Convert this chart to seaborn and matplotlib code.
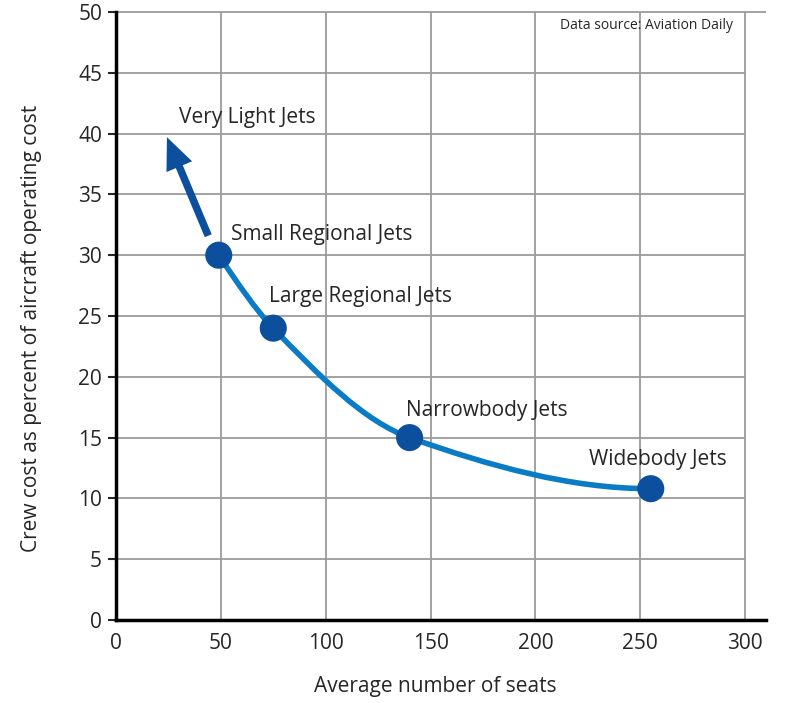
import numpy as np
import matplotlib
matplotlib.use("Agg")
import matplotlib.pyplot as plt
from matplotlib.path import Path
from matplotlib.patches import PathPatch
import pandas as pd
import seaborn as sns

# values
jet_types = ["Small Regional Jets", "Large Regional Jets", "Narrowbody Jets", "Widebody Jets"]
seats = [49, 75, 140, 255]
crew_cost_pct = [30, 24, 15, 10.8]

x_ticks = [0, 50, 100, 150, 200, 250, 300]
y_ticks = [0, 5, 10, 15, 20, 25, 30, 35, 40, 45, 50]

line_blue = "#0a7cc6"
dot_blue = "#0c4f9c"
grid_grey = "#9b9b9b"

sns.set_style("white")
plt.rcParams["font.family"] = ["Open Sans", "DejaVu Sans"]

df = pd.DataFrame({"seats": seats, "pct": crew_cost_pct, "type": jet_types})

fig = plt.figure(figsize=(7.89, 7.03), dpi=100)
ax = fig.add_axes([0.147, 0.118, 0.824, 0.865])
ax.set_xlim(0, 310)
ax.set_ylim(0, 50)

# grid
ax.set_xticks(x_ticks)
ax.set_yticks(y_ticks)
ax.grid(axis="x", color=grid_grey, lw=1.3)
ax.hlines(y_ticks[1:-1], 0, 300, color=grid_grey, lw=1.3, zorder=0.5)
ax.hlines(y_ticks[-1], 0, 310, color=grid_grey, lw=1.3, zorder=0.5, clip_on=False)
ax.set_axisbelow(True)

# smooth monotone curve through the points (pchip slopes, drawn as bezier segments)
x = np.array(seats, dtype=float)
y = np.array(crew_cost_pct, dtype=float)
h = np.diff(x)
d = np.diff(y) / h
m = np.zeros_like(x)
for i in range(1, len(x) - 1):
    w1 = 2 * h[i] + h[i - 1]
    w2 = h[i] + 2 * h[i - 1]
    m[i] = (w1 + w2) / (w1 / d[i - 1] + w2 / d[i])
m0 = ((2 * h[0] + h[1]) * d[0] - h[0] * d[1]) / (h[0] + h[1])
mn = ((2 * h[-1] + h[-2]) * d[-1] - h[-1] * d[-2]) / (h[-1] + h[-2])
m[0] = m0 if np.sign(m0) == np.sign(d[0]) else 0
m[-1] = mn if np.sign(mn) == np.sign(d[-1]) else 0
verts = [(x[0], y[0])]
codes = [Path.MOVETO]
for i in range(len(x) - 1):
    verts += [(x[i] + h[i] / 3, y[i] + m[i] * h[i] / 3),
              (x[i + 1] - h[i] / 3, y[i + 1] - m[i + 1] * h[i] / 3),
              (x[i + 1], y[i + 1])]
    codes += [Path.CURVE4] * 3
ax.add_patch(PathPatch(Path(verts, codes), fill=False, edgecolor=line_blue, lw=4, zorder=2))

sns.scatterplot(data=df, x="seats", y="pct", s=380, color=dot_blue, edgecolor="none",
                ax=ax, zorder=3, legend=False)

# arrow toward very light jets
ax.annotate("", xy=(24.3, 39.7), xytext=(44, 31.6),
            arrowprops=dict(arrowstyle="simple,head_length=1.15,head_width=1.0,tail_width=0.27",
                            mutation_scale=20, color=dot_blue, lw=0,
                            shrinkA=0, shrinkB=0), zorder=3)
ax.annotate("Very Light Jets", xy=(24.3, 39.8), xytext=(12, 19), textcoords="offset pixels",
            fontsize=15, va="center", ha="left")

offsets = [(12, 21), (-4, 32), (-4, 27), (-62, 29)]
for name, px, py, off in zip(jet_types, seats, crew_cost_pct, offsets):
    ax.annotate(name, xy=(px, py), xytext=off, textcoords="offset pixels",
                fontsize=15, va="center", ha="left")

ax.text(0.949, 0.977, "Data source: Aviation Daily", transform=ax.transAxes,
        ha="right", va="center", fontsize=10)

sns.despine(ax=ax)
for s in ["left", "bottom"]:
    ax.spines[s].set_linewidth(2.5)
    ax.spines[s].set_color("black")
ax.tick_params(axis="y", length=6, width=1.5, labelsize=15, pad=4, left=True)
ax.tick_params(axis="x", length=0, labelsize=15, pad=9)

ax.set_xlabel("Average number of seats", fontsize=15, labelpad=16)
ax.set_ylabel("Crew cost as percent of aircraft operating cost", fontsize=15, labelpad=26)
ax.xaxis.label.set_x(0.491)
ax.yaxis.label.set_y(0.48)

fig.savefig("out.png", dpi=100)
